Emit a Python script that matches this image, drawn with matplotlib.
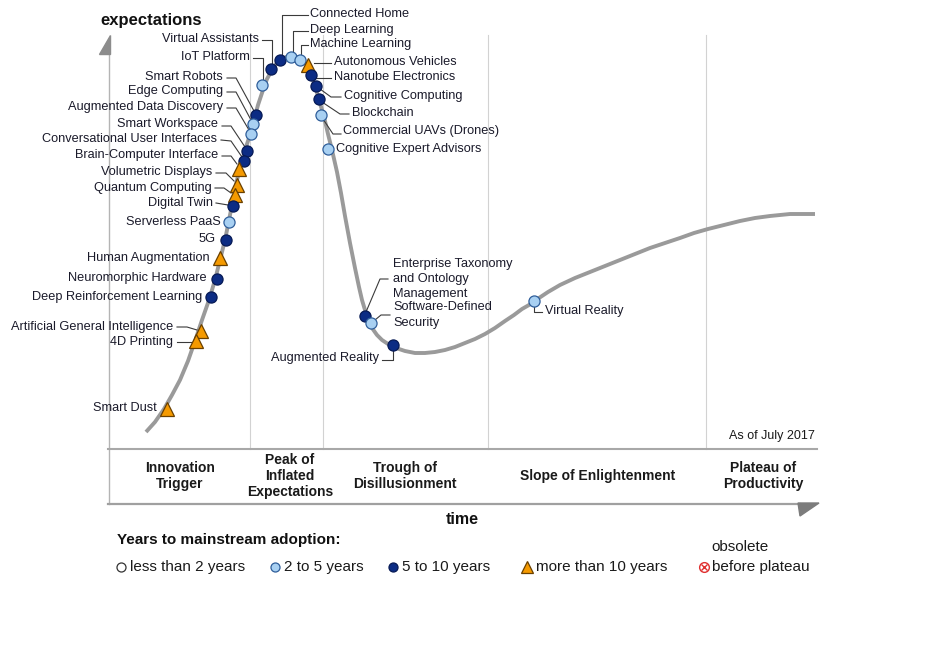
import matplotlib
matplotlib.use("Agg")
import matplotlib.pyplot as plt
from matplotlib.patches import Polygon

plt.rcParams['font.family'] = ['Liberation Sans', 'DejaVu Sans']

# ---------------- data (positions in picture units: x = time, y = expectations, y grows downward) -------------
curve_x = [146, 155, 164, 172, 180, 188, 195, 202, 209, 215, 220, 225, 229, 233, 237, 241, 245, 250, 254, 258,
           263, 267, 272, 276, 281, 286, 291, 296, 300, 304, 308, 311, 313, 316, 319, 322, 325, 328, 332, 337,
           341, 345, 350, 355, 359, 362, 365, 368, 372, 377, 382, 388, 396, 405, 415, 425, 435, 445, 455, 465,
           475, 485, 495, 505, 514, 522, 529, 536, 548, 560, 575, 590, 605, 620, 635, 650, 665, 680, 694, 708,
           724, 740, 755, 770, 780, 790, 800, 815]
curve_y = [432, 422, 409, 395, 380, 361, 341, 320, 300, 280, 260, 240, 220, 200, 180, 165, 150, 135, 120, 105,
           90, 79, 70, 64, 60, 57, 56, 57, 59, 62, 66, 72, 80, 89, 100, 110, 121, 134, 150, 172,
           193, 216, 243, 268, 287, 300, 310, 320, 328, 335, 340, 344, 348, 351, 353, 353, 352, 350, 347, 343,
           339, 334, 328, 321, 315, 309, 305, 300, 292, 285, 278, 272, 266, 260, 254, 248, 243, 238, 233, 229,
           225, 221, 218, 216, 215, 214, 214, 214]

tech_names = ["Virtual Assistants", "IoT Platform", "Connected Home", "Deep Learning", "Machine Learning",
              "Autonomous Vehicles", "Nanotube Electronics", "Cognitive Computing", "Blockchain",
              "Commercial UAVs (Drones)", "Cognitive Expert Advisors", "Smart Robots", "Edge Computing",
              "Augmented Data Discovery", "Smart Workspace", "Conversational User Interfaces",
              "Brain-Computer Interface", "Volumetric Displays", "Quantum Computing", "Digital Twin",
              "Serverless PaaS", "5G", "Human Augmentation", "Neuromorphic Hardware",
              "Deep Reinforcement Learning", "Artificial General Intelligence", "4D Printing", "Smart Dust",
              "Enterprise Taxonomy\nand Ontology\nManagement", "Software-Defined\nSecurity",
              "Augmented Reality", "Virtual Reality"]
tech_x = [271, 262, 280, 291, 300, 308, 311, 316, 319, 321, 328, 256, 253, 251, 247, 244, 239, 237, 235, 233,
          229, 226, 220, 217, 211, 201, 196, 167, 365, 371, 393, 534]
tech_y = [69, 85, 60, 57, 60, 65, 75, 86, 99, 115, 149, 115, 124, 134, 151, 161, 169, 185, 195, 206,
          222, 240, 258, 279, 297, 331, 341, 409, 316, 323, 345, 301]
# adoption class: 1 = 2 to 5 years, 2 = 5 to 10 years, 3 = more than 10 years
tech_cat = [2, 1, 2, 1, 1, 3, 2, 2, 2, 1, 1, 2, 1, 1, 2, 2, 3, 3, 3, 2, 1, 2, 3, 2, 2, 3, 3, 3, 2, 1, 2, 1]

phase_names = ["Innovation\nTrigger", "Peak of\nInflated\nExpectations", "Trough of\nDisillusionment",
               "Slope of Enlightenment", "Plateau of\nProductivity"]
phase_bounds = [250, 323, 488, 706]

legend_labels = ["less than 2 years", "2 to 5 years", "5 to 10 years", "more than 10 years"]

# ---------------- layout (label anchors and leader lines) ----------------
# (text x, text y, ha, leader polyline)
label_layout = [
    (259, 39, 'right', [(262, 40), (272, 40), (272, 64)]),
    (250, 57, 'right', [(253, 58), (263, 58), (263, 80)]),
    (310, 14, 'left', [(308, 15), (282, 15), (282, 55)]),
    (310, 30, 'left', [(308, 31), (293, 31), (293, 52)]),
    (310, 44, 'left', [(308, 45), (301, 45), (301, 55)]),
    (334, 62, 'left', [(331, 63), (314, 63)]),
    (334, 77, 'left', [(331, 78), (315, 78)]),
    (344, 96, 'left', [(341, 97), (331, 97), (320, 89)]),
    (352, 113, 'left', [(349, 114), (340, 114), (322, 102)]),
    (343, 131, 'left', [(341, 134), (333, 134), (323, 119)]),
    (336, 149, 'left', None),
    (223, 77, 'right', [(227, 78), (236, 78), (254, 111)]),
    (223, 91, 'right', [(227, 92), (236, 92), (251, 120)]),
    (223, 107, 'right', [(227, 108), (236, 108), (249, 130)]),
    (218, 124, 'right', [(222, 126), (231, 126), (245, 147)]),
    (217, 139, 'right', [(221, 140), (231, 141), (242, 157)]),
    (218, 155, 'right', [(222, 156), (231, 156), (237, 164)]),
    (212, 172, 'right', [(216, 173), (226, 173), (234, 181)]),
    (212, 188, 'right', [(215, 188), (224, 188), (231, 193)]),
    (213, 203, 'right', [(216, 203), (228, 205)]),
    (221, 222, 'right', None),
    (216, 239, 'right', None),
    (210, 258, 'right', None),
    (207, 278, 'right', None),
    (202, 297, 'right', None),
    (173, 327, 'right', [(177, 327), (187, 327), (197, 330)]),
    (173, 342, 'right', [(177, 342), (191, 342)]),
    (157, 408, 'right', None),
    (393, 279, 'left', [(388, 279), (380, 279), (366, 312)]),
    (393, 315, 'left', [(390, 315), (381, 315), (375, 320)]),
    (379, 358, 'right', [(382, 360), (393, 360), (393, 350)]),
    (545, 311, 'left', [(534, 305), (534, 312), (542, 312)]),
]
phase_centers = [180, 290, 405, 598, 763]

DARK = '#0c2c84'
DARK_E = '#071a55'
LIGHT = '#a8d0f2'
LIGHT_E = '#2f5e9a'
ORANGE = '#f59a00'
ORANGE_E = '#6a4000'
cat_style = {
    1: dict(marker='o', ms=8.0, mfc=LIGHT, mec=LIGHT_E, mew=0.9),
    2: dict(marker='o', ms=8.0, mfc=DARK, mec=DARK_E, mew=0.9),
    3: dict(marker='^', ms=9.5, mfc=ORANGE, mec=ORANGE_E, mew=0.9),
}

fig = plt.figure(figsize=(9.43, 6.58), dpi=100)
ax = fig.add_axes([0, 0, 1, 1])
ax.set_xlim(0, 943)
ax.set_ylim(658, 0)
ax.axis('off')

# phase separators
for b in phase_bounds:
    ax.plot([b, b], [35, 449], color='#d2d2d2', lw=0.8, zorder=1)

# axes frame
ax.plot([109, 109], [53, 504], color='#b4b4b4', lw=1.0, zorder=1)
ax.add_patch(Polygon([(110, 35), (110, 54), (99, 54)], closed=True, color='#8c8c8c', zorder=2))
ax.plot([108, 817], [449, 449], color='#a8a8a8', lw=1.5, zorder=1)
ax.plot([108, 800], [504, 504], color='#a0a0a0', lw=1.6, zorder=1)
ax.add_patch(Polygon([(798, 503), (819, 503), (800, 516)], closed=True, color='#7c7c7c', zorder=2))

# curve
ax.plot(curve_x, curve_y, color='#9a9a9a', lw=2.8, solid_joinstyle='round', solid_capstyle='butt', zorder=2)

# technologies
for name, x, y, c, (tx, ty, ha, leader) in zip(tech_names, tech_x, tech_y, tech_cat, label_layout):
    if leader:
        lx, ly = zip(*leader)
        ax.plot(lx, ly, color='#3a3a3a', lw=0.8, zorder=3)
    ax.plot([x], [y], ls='none', zorder=5, **cat_style[c])
    ax.text(tx, ty, name, ha=ha, va='center', fontsize=9.2, color='#1a1a2a', linespacing=1.35,
            multialignment='left', zorder=6)

# phase labels
for name, cx in zip(phase_names, phase_centers):
    ax.text(cx, 476, name, ha='center', va='center', fontsize=10, fontweight='bold', color='#1a1a1a',
            linespacing=1.2)

ax.text(815, 436, "As of July 2017", ha='right', va='center', fontsize=9, color='#1a1a1a')
ax.text(100, 20, "expectations", ha='left', va='center', fontsize=12, fontweight='bold', color='#111111')
ax.text(462, 519, "time", ha='center', va='center', fontsize=11.5, fontweight='bold', color='#111111')

# legend
ax.text(117, 540, "Years to mainstream adoption:", ha='left', va='center', fontsize=11, fontweight='bold',
        color='#111111')
leg_x = [121, 275, 393, 527]
leg_style = [dict(marker='o', ms=6.5, mfc='white', mec='#333333', mew=0.9),
             dict(marker='o', ms=6.5, mfc=LIGHT, mec=LIGHT_E, mew=0.9),
             dict(marker='o', ms=6.5, mfc=DARK, mec=DARK_E, mew=0.9),
             dict(marker='^', ms=9, mfc=ORANGE, mec=ORANGE_E, mew=0.9)]
for lx, lab, st in zip(leg_x, legend_labels, leg_style):
    ax.plot([lx], [567], ls='none', **st)
    ax.text(lx + 9, 567, lab, ha='left', va='center', fontsize=11, color='#1a1a1a')
ax.plot([704], [567], ls='none', marker='o', ms=7, mfc='white', mec='#e03030', mew=1.0)
ax.plot([704], [567], ls='none', marker='x', ms=3.8, mec='#e03030', mew=1.0)
ax.text(712, 567, "before plateau", ha='left', va='center', fontsize=11, color='#1a1a1a')
ax.text(711, 547, "obsolete", ha='left', va='center', fontsize=11, color='#1a1a1a')

fig.savefig("out.png", dpi=100)
